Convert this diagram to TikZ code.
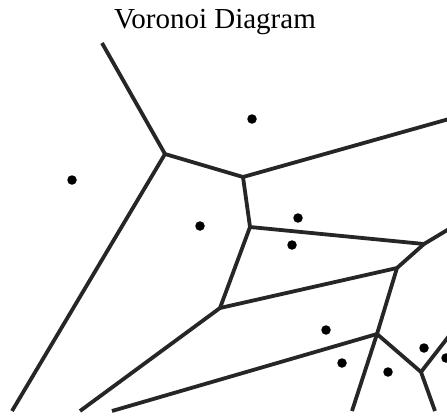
\documentclass[tikz,border=0pt]{standalone}
\usepackage{fontspec}
\setmainfont{Liberation Serif}

\begin{document}
\begin{tikzpicture}[
    x=1pt, y=-1pt,
    edge/.style={draw=black!85, line width=3.8pt, line join=round},
    site/.style={circle, fill=black, inner sep=0pt, minimum size=9.5pt},
    ttl/.style={font=\fontsize{29}{34}\selectfont}
  ]

  \useasboundingbox (0,0) rectangle (447,415);

  % Title
  \node[ttl, anchor=base] (title) at (215,28) {Voronoi Diagram};

  % Voronoi vertices
  \coordinate (va) at (165,154);
  \coordinate (vb) at (243,177);
  \coordinate (vc) at (250,227);
  \coordinate (vd) at (424,244);
  \coordinate (ve) at (397,268);
  \coordinate (vf) at (220,308);
  \coordinate (vg) at (377,334);
  \coordinate (vh) at (421,372);

  % Open ends at the frame
  \coordinate (ea) at (102,43);
  \coordinate (eb) at (449,119);
  \coordinate (ec) at (12,411);
  \coordinate (ed) at (449,229);
  \coordinate (ef) at (80,411);
  \coordinate (eg) at (112,411);
  \coordinate (ek) at (352,411);
  \coordinate (eh) at (435,411);
  \coordinate (ei) at (449,336);

  % Edges
  \draw[edge] (ea) -- (va) -- (vb) -- (eb);
  \draw[edge] (va) -- (ec);
  \draw[edge] (vb) -- (vc) -- (vd) -- (ed);
  \draw[edge] (vc) -- (vf) -- (ef);
  \draw[edge] (vd) -- (ve) -- (vg) -- (ek);
  \draw[edge] (ve) -- (vf);
  \draw[edge] (vg) -- (eg);
  \draw[edge] (vg) -- (vh) -- (eh);
  \draw[edge] (vh) -- (ei);

  % Sites
  \node[site] (s1) at (252,119) {};
  \node[site] (s2) at (72,180) {};
  \node[site] (s3) at (200,226) {};
  \node[site] (s4) at (298,218) {};
  \node[site] (s5) at (292,245) {};
  \node[site] (s6) at (326,330) {};
  \node[site] (s7) at (342,363) {};
  \node[site] (s8) at (388,372) {};
  \node[site] (s9) at (424,348) {};
  \node[site] (s10) at (446,358) {};

\end{tikzpicture}
\end{document}
